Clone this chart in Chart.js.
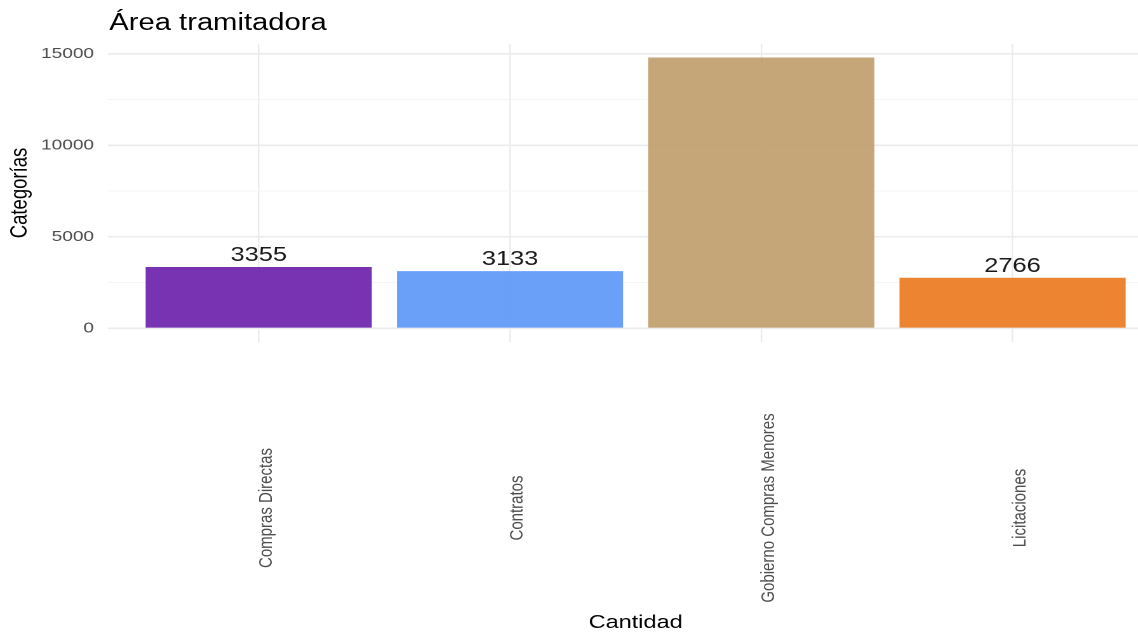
<!DOCTYPE html>
<html>
<head>
<meta charset="utf-8">
<script src="https://cdn.jsdelivr.net/npm/chart.js@4/dist/chart.umd.min.js"></script>
<style>
  html, body { margin: 0; padding: 0; background: #fff; overflow: hidden; }
  /* the reference is stretched sideways, so draw narrow and scale */
  #wrap { position: absolute; left: 0; top: 0; width: 920px; height: 637px;
          transform: scaleX(1.27); transform-origin: 0 0; }
  #title { position: absolute; left: 86px; top: 11px; font: 23px Arial, "Liberation Sans", sans-serif;
           line-height: 23px; color: #000; white-space: nowrap; }
</style>
</head>
<body>
<div id="wrap">
  <div id="title">Área tramitadora</div>
  <canvas id="chart" width="920" height="637"></canvas>
</div>
<script>
const categories = ['Compras Directas', 'Contratos', 'Gobierno Compras Menores', 'Licitaciones']
const values = [3355, 3133, 14790, 2766]
const barColors = [
  'rgba(108, 34, 173, 0.92)',
  'rgba(94, 152, 248, 0.92)',
  'rgba(192, 158, 108, 0.92)',
  'rgba(234, 122, 33, 0.92)'
]
const yTickLabels = [0, 5000, 10000, 15000]

const FONT = 'Arial, "Liberation Sans", sans-serif'
const maxValue = Math.max(...values)
const yMin = -0.05 * maxValue
const yMax = maxValue * 1.05

// minor grid lines sit halfway between the labelled ones
const yGridValues = []
yTickLabels.forEach((v, i) => {
  yGridValues.push(v)
  if (i < yTickLabels.length - 1) yGridValues.push((v + yTickLabels[i + 1]) / 2)
})

const barLabels = {
  id: 'barLabels',
  afterDatasetsDraw(chart) {
    const ctx = chart.ctx
    const area = chart.chartArea
    ctx.save()
    ctx.font = '20px ' + FONT
    ctx.fillStyle = '#1a1a1a'
    ctx.textAlign = 'center'
    ctx.textBaseline = 'alphabetic'
    chart.getDatasetMeta(0).data.forEach((bar, i) => {
      const y = bar.y - 6
      if (y - 15 < area.top) return // ggplot clips labels outside the panel
      ctx.fillText(String(values[i]), bar.x, y)
    })
    ctx.restore()
  }
}

const xLabels = {
  id: 'xLabels',
  afterDraw(chart) {
    const ctx = chart.ctx
    const xs = chart.scales.x
    const cy = chart.chartArea.bottom + 166
    ctx.save()
    ctx.font = '15px ' + FONT
    ctx.fillStyle = '#4d4d4d'
    ctx.textAlign = 'center'
    ctx.textBaseline = 'middle'
    categories.forEach((c, i) => {
      ctx.save()
      ctx.translate(xs.getPixelForValue(i) + 6, cy)
      ctx.rotate(-Math.PI / 2)
      ctx.fillText(c, 0, 0)
      ctx.restore()
    })
    ctx.restore()
  }
}

new Chart(document.getElementById('chart'), {
  type: 'bar',
  data: {
    datasets: [{
      data: values.map((v, i) => ({ x: i, y: v })),
      backgroundColor: barColors,
      borderWidth: 0,
      barPercentage: 0.9,
      categoryPercentage: 1
    }]
  },
  options: {
    responsive: false,
    devicePixelRatio: 2,
    animation: false,
    layout: { padding: { top: 44, right: 4, bottom: 0, left: 0 } },
    plugins: {
      legend: { display: false },
      tooltip: { enabled: false }
    },
    scales: {
      x: {
        type: 'linear',
        offset: false,
        min: -0.6,
        max: categories.length - 0.4,
        afterBuildTicks: scale => { scale.ticks = categories.map((c, i) => ({ value: i })) },
        afterFit: scale => { scale.height = 295 },
        ticks: { display: false },
        grid: { color: '#ebebeb', lineWidth: 1.2, drawTicks: false, offset: false },
        border: { display: false },
        title: {
          display: true,
          text: 'Cantidad',
          color: '#000',
          font: { family: FONT, size: 18.5 },
          padding: { top: 0, bottom: 3 }
        }
      },
      y: {
        min: yMin,
        max: yMax,
        afterBuildTicks: scale => { scale.ticks = yGridValues.map(v => ({ value: v })) },
        afterFit: scale => { scale.width = 85 },
        ticks: {
          autoSkip: false,
          padding: 11,
          color: '#4d4d4d',
          font: { family: FONT, size: 15 },
          callback: v => (yTickLabels.includes(v) ? String(v) : '')
        },
        grid: {
          drawTicks: false,
          color: ctx => (yTickLabels.includes(ctx.tick.value) ? '#ebebeb' : '#f4f4f4'),
          lineWidth: ctx => (yTickLabels.includes(ctx.tick.value) ? 1.6 : 1)
        },
        border: { display: false },
        title: {
          display: true,
          text: 'Categorías',
          color: '#000',
          font: { family: FONT, size: 18.5 },
          padding: { top: 5, bottom: 0 }
        }
      }
    }
  },
  plugins: [barLabels, xLabels]
})
</script>
</body>
</html>
